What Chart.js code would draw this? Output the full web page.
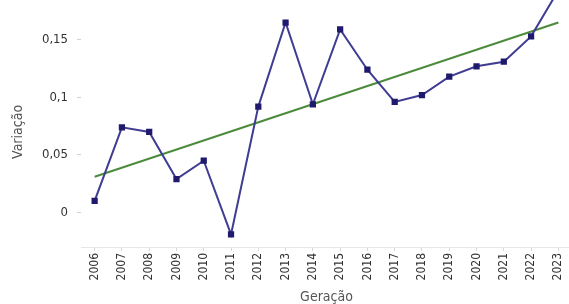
<!DOCTYPE html>
<html>
<head>
<meta charset="utf-8">
<script src="https://cdn.jsdelivr.net/npm/chart.js@4"></script>
<style>
  body { margin: 0; overflow: hidden; background: #fff; }
  #wrap { width: 578px; height: 304px; }
</style>
</head>
<body>
<div id="wrap"><canvas id="chart" width="578" height="304"></canvas></div>
<script>
// data
const years = ["2006", "2007", "2008", "2009", "2010", "2011", "2012", "2013", "2014",
  "2015", "2016", "2017", "2018", "2019", "2020", "2021", "2022", "2023"];
const variacao = [0.010, 0.074, 0.070, 0.029, 0.045, -0.019, 0.092, 0.165, 0.094,
  0.159, 0.124, 0.096, 0.102, 0.118, 0.127, 0.131, 0.153, 0.193];
// trend line: only the two ends, the rest is spanned
const trend = [0.031, null, null, null, null, null, null, null, null,
  null, null, null, null, null, null, null, null, 0.165];
const yTicks = [0, 0.05, 0.1, 0.15];

const font = "'Liberation Sans Narrow', 'DejaVu Sans Condensed', 'Roboto', sans-serif";

const ctx = document.getElementById("chart").getContext("2d");
new Chart(ctx, {
  type: "line",
  data: {
    labels: years,
    datasets: [
      {
        label: "Variação",
        data: variacao,
        borderColor: "#3f3c92",
        borderWidth: 2,
        pointStyle: "rect",
        pointRadius: 3,
        pointBackgroundColor: "#201a6e",
        pointBorderColor: "#201a6e",
        tension: 0,
        clip: false
      },
      {
        label: "Tendência",
        data: trend,
        borderColor: "#4b8b3b",
        borderWidth: 2,
        pointRadius: 0,
        spanGaps: true,
        tension: 0
      }
    ]
  },
  options: {
    responsive: false,
    animation: false,
    layout: { padding: { top: 15, left: 0, right: 0, bottom: 0 } },
    plugins: { legend: { display: false }, tooltip: { enabled: false } },
    scales: {
      x: {
        offset: true,
        grid: { drawOnChartArea: false, color: "#d8d8d8", tickLength: 4 },
        border: { color: "#e6e6e6" },
        ticks: {
          minRotation: 90, maxRotation: 90, padding: 2,
          color: "#333", font: { family: font, size: 12 }
        },
        title: {
          display: true, text: "Geração", color: "#555",
          font: { family: font, size: 14, lineHeight: 1 }, padding: { top: 0, bottom: 0 }
        },
        afterFit: s => { s.height = 57; }
      },
      y: {
        min: -0.03,
        max: 0.17,
        afterBuildTicks: s => { s.ticks = yTicks.map(v => ({ value: v })); },
        grid: { drawOnChartArea: false, color: "#d0d0d0", tickLength: 4 },
        border: { display: false },
        ticks: {
          padding: 9, color: "#333", font: { family: font, size: 13 },
          callback: v => String(v).replace(".", ",")
        },
        title: {
          display: true, text: "Variação", color: "#555",
          font: { family: font, size: 14 }, padding: { top: 10, bottom: 0 }
        },
        afterFit: s => { s.width = 81; }
      }
    }
  }
});
</script>
</body>
</html>
